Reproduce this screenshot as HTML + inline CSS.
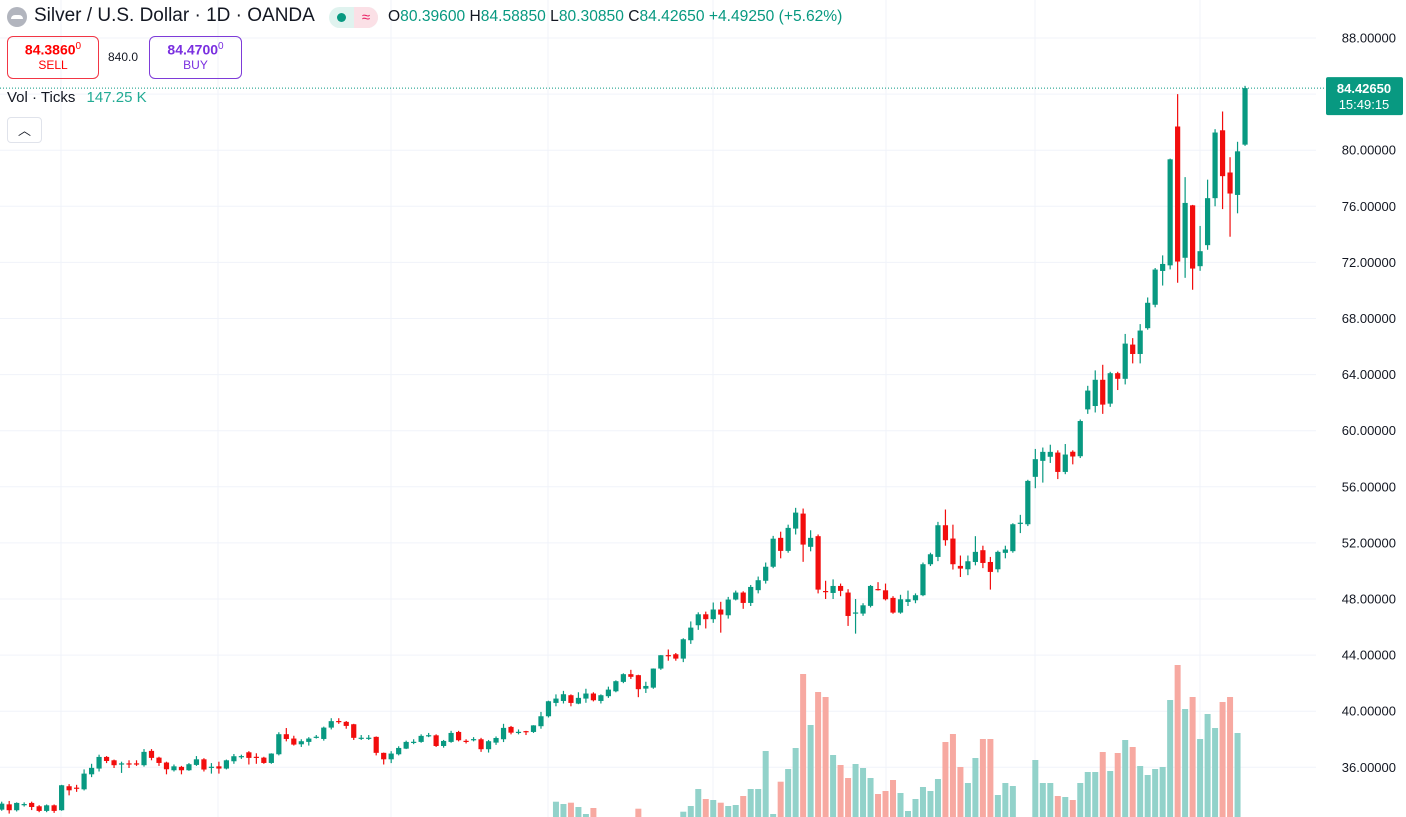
<!DOCTYPE html>
<html><head><meta charset="utf-8"><style>
html,body{margin:0;padding:0;background:#fff;width:1406px;height:817px;overflow:hidden;font-family:"Liberation Sans",sans-serif;}
#wrap{position:relative;width:1406px;height:817px;overflow:hidden;}
svg{position:absolute;left:0;top:0;}
.hdr{position:absolute;white-space:nowrap;color:#131722;}
</style></head><body><div id="wrap">
<svg id="chart" width="1406" height="817"></svg>

<div class="hdr" style="left:7px;top:7px;width:20px;height:20px;border-radius:50%;background:#b2b5be"><div style="position:absolute;left:4px;top:8px;width:12px;height:4px;border-radius:4px 4px 0 0;background:#fff"></div></div>
<div class="hdr" style="left:34px;top:5px;font-size:19px;letter-spacing:0px">Silver / U.S. Dollar · 1D · OANDA</div>
<div class="hdr" style="left:329px;top:7px;width:49px;height:21px;border-radius:11px;background:#e0f3ef;overflow:hidden"><div style="position:absolute;left:8px;top:6px;width:9px;height:9px;border-radius:50%;background:#089981"></div><div style="position:absolute;left:25px;top:0;width:24px;height:21px;background:#fbe0e6;color:#e91e63;font-size:15px;text-align:center;line-height:21px">≈</div></div>
<div class="hdr" style="left:388px;top:8px;font-size:15.6px">O<span style="color:#089981">80.39600</span> H<span style="color:#089981">84.58850</span> L<span style="color:#089981">80.30850</span> C<span style="color:#089981">84.42650 +4.49250 (+5.62%)</span></div>

<div class="hdr" style="left:7px;top:36px;width:90px;height:41px;border:1px solid #f23645;border-radius:6px;text-align:center;color:#f00"><div style="font-size:14px;font-weight:bold;margin-top:4px">84.3860<sup style="font-size:10px;font-weight:normal">0</sup></div><div style="font-size:12px;margin-top:0px">SELL</div></div>
<div class="hdr" style="left:108px;top:50px;font-size:12px">840.0</div>
<div class="hdr" style="left:149px;top:36px;width:91px;height:41px;border:1px solid #7e3bd8;border-radius:6px;text-align:center;color:#7a2fe0"><div style="font-size:14px;font-weight:bold;margin-top:4px">84.4700<sup style="font-size:10px;font-weight:normal">0</sup></div><div style="font-size:12px;margin-top:0px">BUY</div></div>
<div class="hdr" style="left:7px;top:89px;font-size:15px">Vol · Ticks <span style="color:#22ab94;margin-left:7px">147.25 K</span></div>
<div class="hdr" style="left:7px;top:117px;width:33px;height:24px;border:1px solid #e0e3eb;border-radius:4px;text-align:center;font-size:13px;line-height:26px">︿</div>
</div>
<script>
const priceTicks=[88,84,80,76,72,68,64,60,56,52,48,44,40,36];
const opens=[32.98,33.36,32.94,33.36,33.46,33.22,32.89,33.29,32.94,34.65,34.55,34.43,35.50,35.91,36.74,36.50,36.26,36.28,36.28,36.15,37.17,36.69,36.34,35.79,36.03,35.79,36.17,36.57,36.02,36.07,35.91,36.43,36.78,37.07,36.75,36.69,36.31,36.93,38.36,38.05,37.64,37.81,38.16,38.02,38.83,39.30,39.24,39.07,38.09,38.09,38.17,37.03,36.57,36.93,37.33,37.80,37.81,38.27,38.28,37.52,37.81,38.52,37.89,37.99,38.00,37.29,37.76,38.00,38.88,38.51,38.58,38.52,38.93,39.64,40.59,40.73,41.14,40.54,40.90,41.26,40.73,41.07,41.42,42.09,42.64,42.57,41.61,41.68,43.04,44.00,44.06,43.75,45.06,46.13,46.91,46.56,47.25,46.84,47.96,48.46,47.72,48.63,49.30,50.30,52.36,51.43,53.02,54.09,51.72,52.48,48.57,48.43,48.93,48.46,47.02,46.96,47.51,48.71,48.62,48.08,47.03,47.79,47.91,48.27,50.48,51.00,53.26,52.31,50.36,50.12,50.64,51.48,50.64,50.12,51.29,51.41,53.42,53.33,56.71,57.85,58.14,58.44,57.06,58.50,58.18,61.52,61.76,63.63,61.93,64.10,63.70,66.14,65.47,67.31,68.98,71.39,71.79,81.69,72.33,76.07,71.73,73.23,76.58,81.42,78.41,76.81,80.396];
const closes=[33.41,32.94,33.46,33.38,33.17,32.89,33.29,32.89,34.72,34.36,34.53,35.55,35.96,36.74,36.45,36.15,36.28,36.26,36.26,37.10,36.67,36.31,35.86,36.07,35.79,36.22,36.57,35.84,36.04,35.91,36.50,36.79,36.80,36.67,36.73,36.31,36.98,38.36,38.02,37.62,37.86,38.05,38.18,38.83,39.29,39.28,38.95,38.10,38.11,38.11,37.03,36.57,36.98,37.38,37.81,37.82,38.24,38.29,37.52,37.88,38.45,37.93,37.87,38.01,37.29,37.86,38.09,38.81,38.47,38.53,38.56,38.99,39.64,40.71,40.90,41.21,40.59,40.95,41.26,40.78,41.14,41.54,42.14,42.64,42.45,41.57,41.80,43.04,43.99,43.97,43.75,45.13,45.96,46.91,46.56,47.25,46.89,47.96,48.46,47.72,48.86,49.34,50.30,52.30,51.43,53.07,54.16,51.88,52.36,48.67,48.55,48.93,48.58,46.79,47.04,47.55,48.93,48.69,47.98,47.03,47.98,47.98,48.27,50.48,51.19,53.26,52.19,50.48,50.17,50.69,51.36,50.57,49.93,51.36,51.53,53.33,53.44,56.42,57.97,58.49,58.49,57.06,58.30,58.16,60.69,62.86,63.63,61.86,64.10,63.70,66.21,65.47,67.14,69.12,71.49,71.89,79.35,72.06,76.24,71.56,72.80,76.58,81.26,78.15,76.91,79.92,84.4265];
const highs=[33.55,33.6,33.5,33.5,33.55,33.3,33.35,33.35,34.75,34.8,34.75,35.85,36.25,36.9,36.8,36.55,36.4,36.5,36.5,37.3,37.3,36.75,36.4,36.2,36.1,36.3,36.8,36.65,36.3,36.4,36.55,36.95,36.9,37.15,37.0,36.75,37.0,38.5,38.8,38.25,38.0,38.15,38.3,38.9,39.5,39.5,39.3,39.1,38.3,38.3,38.2,37.05,37.15,37.5,37.9,38.0,38.35,38.45,38.35,37.95,38.6,38.6,38.0,38.15,38.1,37.95,38.2,39.1,38.95,38.7,38.6,39.0,39.95,40.75,41.2,41.45,41.2,41.35,41.6,41.35,41.2,41.75,42.2,42.7,42.95,42.6,42.1,43.05,44.0,44.4,44.15,45.2,46.4,47.05,47.1,47.75,47.8,48.15,48.6,48.55,49.0,49.6,50.6,52.5,52.8,53.3,54.5,54.45,52.9,52.6,49.3,49.4,49.1,48.7,48.0,47.7,49.0,49.2,49.1,48.2,48.3,48.6,48.4,50.6,51.3,53.5,54.38,53.3,51.1,51.1,52.48,51.8,51.0,51.45,51.8,53.4,54.0,56.5,58.7,58.8,59.0,58.6,59.05,58.6,60.8,63.2,64.3,64.7,64.2,64.2,66.9,66.6,67.6,69.5,71.6,72.5,79.4,84.0,78.08,76.1,74.6,77.9,81.5,82.76,79.5,80.6,84.5885];
const lows=[32.9,32.7,32.85,33.2,32.95,32.8,32.8,32.75,32.9,34.0,34.25,34.35,35.3,35.7,36.3,35.95,35.6,35.95,36.1,36.05,36.5,36.1,35.5,35.7,35.5,35.75,36.1,35.7,35.55,35.55,35.85,36.25,36.6,36.2,36.25,36.25,36.25,36.85,37.85,37.55,37.45,37.55,38.05,37.9,38.7,39.1,38.75,37.95,37.95,37.95,36.85,36.2,36.3,36.85,37.3,37.65,37.75,38.15,37.45,37.4,37.75,37.85,37.7,37.85,37.1,37.05,37.6,37.8,38.35,38.35,38.3,38.45,38.75,39.55,40.35,40.55,40.35,40.5,40.6,40.7,40.55,40.95,41.35,42.0,42.3,41.0,41.3,41.6,42.95,43.6,43.6,43.5,44.8,45.8,45.9,46.3,45.6,46.6,47.9,47.3,47.5,48.4,49.1,50.2,50.9,51.3,52.6,50.65,51.4,48.4,48.0,48.0,48.2,46.08,45.53,46.8,47.4,48.6,47.9,46.95,46.95,47.5,47.7,48.2,50.35,50.7,51.8,50.1,49.57,49.7,50.4,50.2,48.67,49.9,50.9,51.3,52.7,53.2,55.9,56.3,57.7,56.55,56.9,57.6,58.05,61.2,61.3,61.2,61.7,62.9,63.3,64.8,64.8,67.2,68.8,70.35,71.5,70.55,70.9,70.05,71.4,72.9,76.0,75.8,73.83,75.5,80.3085];
const volumes=[420,380,410,350,400,390,370,360,520,430,380,500,450,480,400,420,350,360,340,470,430,410,440,380,390,400,420,450,380,390,410,400,360,430,370,420,450,560,480,470,410,420,380,460,500,380,420,480,360,350,520,470,430,440,460,380,450,400,480,420,470,490,380,400,500,460,440,520,490,410,430,460,520,600,783,760,773,730,660,720,560,540,580,590,560,713,560,600,590,580,560,683,740,910,810,800,773,740,750,840,910,910,1290,660,983,1110,1320,2060,1550,1880,1830,1250,1150,1020,1160,1120,1020,860,890,1000,870,690,810,930,890,1010,1380,1460,1130,970,1220,1410,1410,850,970,940,600,600,1200,970,970,840,830,800,970,1080,1080,1280,1090,1270,1400,1330,1140,1050,1110,1130,1800,2150,1710,1830,1410,1660,1520,1780,1830,1470,147];

const NS='http://www.w3.org/2000/svg';
const svg=document.getElementById('chart');
const plotRight=1316;
const bottom=817;
function yP(p){return 38+(88-p)*14.025;}
function xI(i){return 1.7+i*7.49;}
function yV(v){return 880-v/10;}
function mk(tag,attrs,parent){const e=document.createElementNS(NS,tag);for(const k in attrs)e.setAttribute(k,attrs[k]);(parent||svg).appendChild(e);return e;}

const grid=mk('g',{});


[61,218,391,548,713,886,1035,1200].forEach(x=>{
  const l=mk('line',{x1:x,x2:x,y1:0,y2:bottom,stroke:'#f0f3fa','stroke-width':1},grid);
  
  
});
priceTicks.forEach(p=>{
  const y=yP(p);
  const l=mk('line',{x1:0,x2:plotRight,y1:y,y2:y,stroke:'#f0f3fa','stroke-width':1},grid);
  
  
  if(p===84)return;
  const t=mk('text',{x:1396,y:y+4.5,'text-anchor':'end','font-size':13,fill:'#131722','font-family':'Liberation Sans, sans-serif'});
  t.textContent=p.toFixed(5);
  
  
});

const vg=mk('g',{});


volumes.forEach((v,i)=>{
  const up=closes[i]>=opens[i];
  const y=yV(v);
  if(y>=bottom)return;
  const r=mk('rect',{x:xI(i)-3,y:y,width:6,height:bottom-y,fill:up?'#92d2ca':'#f7a9a1'},vg);
  
  
});

const cg=mk('g',{});


opens.forEach((o,i)=>{
  const c=closes[i],up=c>=o,col=up?'#089981':'#f20d0d',x=xI(i);
  const g=mk('g',{},cg);
  
  
  mk('line',{x1:x,x2:x,y1:yP(highs[i]),y2:Math.min(bottom,yP(lows[i])),stroke:col,'stroke-width':1.2},g);
  const top=yP(Math.max(o,c)),bot=Math.min(bottom,yP(Math.min(o,c)));
  mk('rect',{x:x-2.6,y:top,width:5.2,height:Math.max(1.2,bot-top),fill:col},g);
});

const last=closes[closes.length-1];
const ly=yP(last);
const pl=mk('line',{x1:0,x2:1326,y1:ly,y2:ly,stroke:'#089981','stroke-width':1,'stroke-dasharray':'1,2'});


const tag=mk('g',{});


mk('rect',{x:1326,y:ly-11,width:77,height:38,rx:2,fill:'#089981'},tag);
const t1=mk('text',{x:1364,y:ly+5,'text-anchor':'middle','font-size':13,'font-weight':'bold',fill:'#fff','font-family':'Liberation Sans, sans-serif'},tag);
t1.textContent=last.toFixed(5);
const t2=mk('text',{x:1364,y:ly+21,'text-anchor':'middle','font-size':13,fill:'#fff','font-family':'Liberation Sans, sans-serif'},tag);
t2.textContent='15:49:15';
</script>
</body></html>
